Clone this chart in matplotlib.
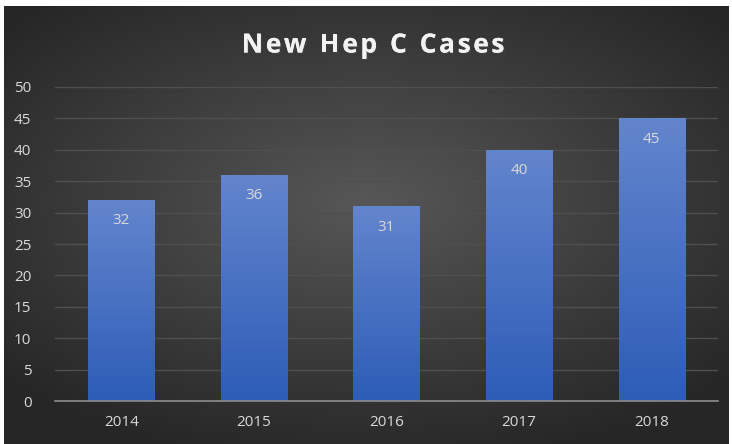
import numpy as np
import matplotlib.pyplot as plt
import matplotlib.patheffects as pe
from matplotlib.colors import LinearSegmentedColormap

years = ['2014', '2015', '2016', '2017', '2018']
cases = [32, 36, 31, 40, 45]
y_ticks = list(range(0, 55, 5))
title = 'New Hep C Cases'

W, H, DPI = 732, 444, 100
fig = plt.figure(figsize=(W / DPI, H / DPI), dpi=DPI, facecolor='white')

# dark radial background panel
bg = fig.add_axes([4 / W, 0, 725 / W, 438 / H])
bg.set_axis_off()
gx, gy = np.meshgrid(np.linspace(-1, 1, 400), np.linspace(-1, 1, 250))
r = np.sqrt(gx ** 2 + ((gy + 0.1) * 1.1) ** 2)
bg_cmap = LinearSegmentedColormap.from_list('bg', ['#575757', '#3e3e3e', '#262626'])
bg.imshow(np.clip(r / 1.35, 0, 1), cmap=bg_cmap, aspect='auto', extent=[0, 1, 0, 1],
          vmin=0, vmax=1)
bg.set_xlim(0, 1)
bg.set_ylim(0, 1)

# plot area
ax = fig.add_axes([55 / W, (H - 401) / H, 663 / W, 314 / H])
ax.patch.set_alpha(0)
x = np.arange(len(years))
bars = ax.bar(x, cases, width=0.5, color='#4472C4', zorder=2)

bar_cmap = LinearSegmentedColormap.from_list('bar', ['#2D5DB7', '#6385CD'])
grad = np.linspace(0, 1, 256).reshape(-1, 1)
for b in bars:
    x0, w, h = b.get_x(), b.get_width(), b.get_height()
    im = ax.imshow(grad, cmap=bar_cmap, aspect='auto', origin='lower',
                   extent=[x0, x0 + w, 0, h], zorder=3)
    im.set_clip_path(b)

for xi, v in zip(x, cases):
    ax.annotate(str(v), (xi, v), xytext=(0, -15), textcoords='offset points',
                ha='center', va='center', color='#D9D9D9', fontsize=11,
                family='Open Sans', zorder=4)

ax.set_xlim(-0.5, len(years) - 0.5)
ax.set_ylim(0, 50)
ax.set_yticks(y_ticks)
ax.set_xticks(x)
ax.set_xticklabels(years)
ax.yaxis.grid(True, color='#4f4f4f', linewidth=1, zorder=0)
ax.set_axisbelow(True)
for s in ['top', 'right', 'left']:
    ax.spines[s].set_visible(False)
ax.spines['bottom'].set_color('#8c8c8c')
ax.spines['bottom'].set_linewidth(1.2)
ax.spines['bottom'].set_zorder(5)
ax.tick_params(axis='both', length=0, colors='#D9D9D9', labelsize=11)
ax.tick_params(axis='y', pad=17)
ax.tick_params(axis='x', pad=10)
for lab in ax.get_xticklabels() + ax.get_yticklabels():
    lab.set_family('Open Sans')

# title with letter spacing: lay out characters one by one
renderer = fig.canvas.get_renderer()
tkw = dict(color='#F2F2F2', fontsize=19, fontweight='bold', family='Open Sans',
           va='center', ha='left',
           path_effects=[pe.withSimplePatchShadow(offset=(1, -1), alpha=0.5), pe.Normal()])
track = 2.6  # px between characters
widths = []
for ch in title:
    t = fig.text(0, 0, ch if ch != ' ' else 'n', **tkw)
    wpx = t.get_window_extent(renderer).width
    widths.append(wpx * (0.45 if ch == ' ' else 1.0))
    t.remove()
total = sum(widths) + track * (len(title) - 1)
xpos = 373 - total / 2
for ch, wpx in zip(title, widths):
    if ch != ' ':
        fig.text(xpos / W, 1 - 45 / H, ch, **tkw)
    xpos += wpx + track

fig.savefig('out.png', dpi=DPI, facecolor='white')
